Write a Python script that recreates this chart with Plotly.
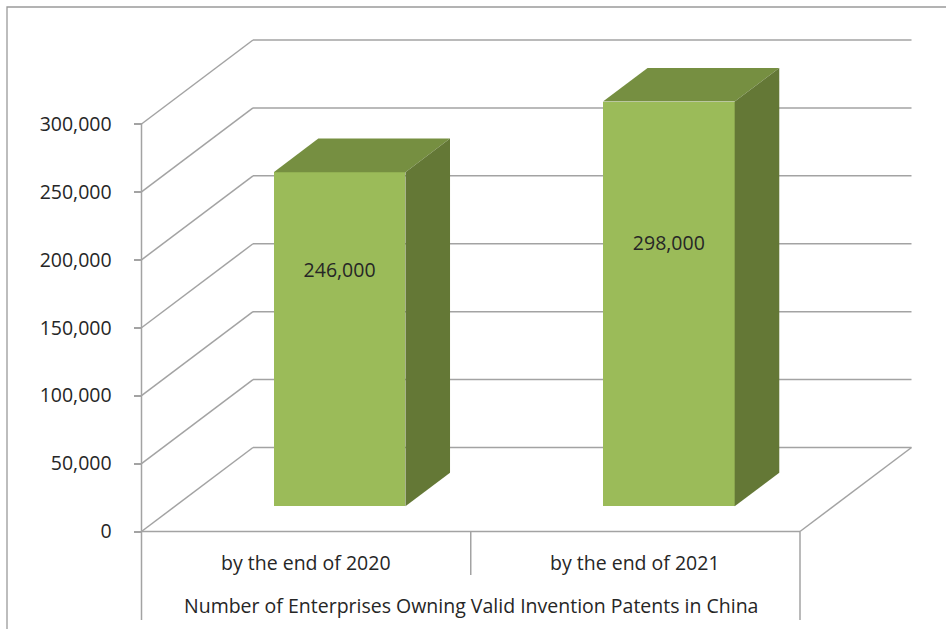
import plotly.graph_objects as go

# ---------------- data ----------------
CATEGORIES = ["by the end of 2020", "by the end of 2021"]
VALUES = [246000, 298000]
VALUE_LABELS = ["246,000", "298,000"]
Y_TICKS = [0, 50000, 100000, 150000, 200000, 250000, 300000]
AXIS_TITLE = "Number of Enterprises Owning Valid Invention Patents in China"

# ---------------- layout constants (pixels of the 946x629 canvas) ----------------
W, H = 946, 629
AX_LEFT_PX = 141.5       # front-left corner of the floor
FLOOR_PX = 531.5         # front edge of floor (value 0)
CAT_PX = 329.25          # pixels per category
VAL_PX = 407.5 / 300000  # pixels per unit of value
DEPTH_DX_PX = 111.5      # oblique depth offset
DEPTH_DY_PX = 84.0

def xpx(p):
    return (p - AX_LEFT_PX) / CAT_PX - 0.5

def ypx(q):
    return (FLOOR_PX - q) / VAL_PX

DXD = DEPTH_DX_PX / CAT_PX       # depth offset in x data units
DYD = DEPTH_DY_PX * (1 / VAL_PX)  # depth offset in value units

BAR_W = 0.40
D0, BD = 0.30, 0.40   # bar front depth and bar depth (fraction of floor depth)
LABEL_FRAC = [0.70, 0.645]

FRONT = "#9BBB59"
TOP = "#768F41"
SIDE = "#647836"
GRID = "#A3A3A3"
TXT = "#262626"
FONT = "Open Sans"
FS = 19.5

fig = go.Figure()

n = len(CATEGORIES)
x_left, x_right = -0.5, n - 0.5
ymax = Y_TICKS[-1]

shapes = []
def line(x0, y0, x1, y1, color=GRID, width=1.5, layer="below"):
    shapes.append(dict(type="line", xref="x", yref="y", x0=x0, y0=y0, x1=x1, y1=y1,
                       line=dict(color=color, width=width), layer=layer))

# gridlines: left wall diagonals + back wall horizontals
for v in Y_TICKS:
    line(x_left, v, x_left + DXD, v + DYD)
    line(x_left + DXD, v + DYD, x_right + DXD, v + DYD)
# floor front edge and right diagonal
line(x_left, 0, x_right, 0)
line(x_right, 0, x_right + DXD, DYD)
# value axis line and category table lines
y_table_bottom = ypx(620)
y_div_bottom = ypx(575)
line(x_left, ymax, x_left, y_table_bottom)
line(x_right, 0, x_right, y_table_bottom)
for i in range(1, n):
    line(i - 0.5, 0, i - 0.5, y_div_bottom)

# outer chart border
shapes.append(dict(type="rect", xref="paper", yref="paper",
                   x0=7 / W, y0=1 - 7 / H, x1=1.05, y1=-0.05,
                   line=dict(color="#9A9A9A", width=1.3), fillcolor="rgba(0,0,0,0)", layer="below"))

# 3D bar faces (top and side) from data
for i, v in enumerate(VALUES):
    base = D0 * DYD
    top = base + v
    xl = i + D0 * DXD - BAR_W / 2
    xr = i + D0 * DXD + BAR_W / 2
    ddx, ddy = BD * DXD, BD * DYD
    fig.add_trace(go.Scatter(
        x=[xl, xr, xr + ddx, xl + ddx, xl], y=[top, top, top + ddy, top + ddy, top],
        fill="toself", fillcolor=TOP, mode="lines", line=dict(width=0, color=TOP),
        hoverinfo="skip", showlegend=False))
    fig.add_trace(go.Scatter(
        x=[xr, xr, xr + ddx, xr + ddx, xr], y=[base, top, top + ddy, base + ddy, base],
        fill="toself", fillcolor=SIDE, mode="lines", line=dict(width=0, color=SIDE),
        hoverinfo="skip", showlegend=False))

# front faces
fig.add_trace(go.Bar(
    x=[i + D0 * DXD for i in range(n)], y=VALUES, base=D0 * DYD, width=BAR_W,
    marker=dict(color=FRONT, line=dict(width=0)), showlegend=False, hoverinfo="skip"))

# value labels
fig.add_trace(go.Scatter(
    x=[i + D0 * DXD for i in range(n)],
    y=[D0 * DYD + v * f for v, f in zip(VALUES, LABEL_FRAC)],
    mode="text", text=VALUE_LABELS, textfont=dict(family=FONT, size=FS, color=TXT),
    hoverinfo="skip", showlegend=False))

annotations = []
for i, c in enumerate(CATEGORIES):
    annotations.append(dict(x=i, y=ypx(562), xref="x", yref="y", text=c, showarrow=False,
                            font=dict(family=FONT, size=FS, color=TXT)))
annotations.append(dict(x=(x_left + x_right) / 2, y=ypx(605), xref="x", yref="y", text=AXIS_TITLE,
                        showarrow=False, font=dict(family=FONT, size=FS, color=TXT)))

fig.update_layout(
    width=W, height=H, margin=dict(l=0, r=0, t=0, b=0),
    paper_bgcolor="white", plot_bgcolor="white",
    shapes=shapes, annotations=annotations, bargap=0,
    xaxis=dict(range=[xpx(0), xpx(W)], visible=False, fixedrange=True),
    yaxis=dict(range=[ypx(H), ypx(0)], anchor="free", position=AX_LEFT_PX / W,
               tickmode="array", tickvals=Y_TICKS, tickformat=",",
               ticks="outside", ticklen=8, tickcolor=GRID, tickwidth=1.5,
               showgrid=False, zeroline=False, showline=False, automargin=False,
               ticklabelstandoff=18,
               tickfont=dict(family=FONT, size=FS, color=TXT), fixedrange=True),
)

fig.write_html("out.html", config={"displayModeBar": False},
               post_script="document.body.style.margin='0';document.body.style.overflow='hidden';")
